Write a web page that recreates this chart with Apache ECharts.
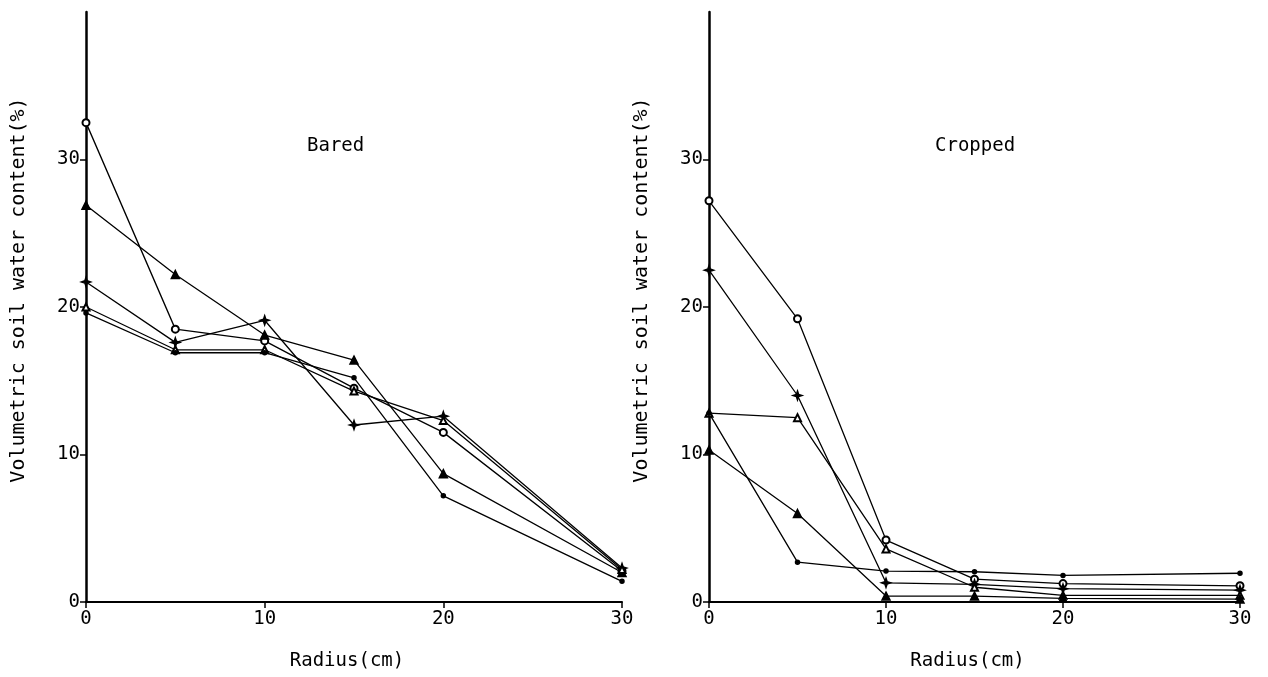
<!DOCTYPE html>
<html>
<head>
<meta charset="utf-8">
<script src="https://cdn.jsdelivr.net/npm/echarts@6/dist/echarts.min.js"></script>
<style>
  html, body { margin: 0; padding: 0; background: #ffffff; }
  #chart { width: 1268px; height: 677px; }
</style>
</head>
<body>
<div id="chart"></div>
<script>
// Radius from the plant (cm)
const radius = [0, 5, 10, 15, 20, 30];

// Bared plot: volumetric soil water content (%)
const baredCircle   = [32.5, 18.5, 17.7, 14.5, 11.5, 2.1];
const baredTriangle = [26.9, 22.2, 18.1, 16.4, 8.7, 2.0];
const baredStar     = [21.7, 17.6, 19.1, 12.0, 12.6, 2.3];
const baredRing     = [20.0, 17.1, 17.1, 14.3, 12.3, 2.2];
const baredDot      = [19.6, 16.9, 16.9, 15.2, 7.2, 1.4];

// Cropped plot: volumetric soil water content (%)
const croppedCircle   = [27.2, 19.2, 4.2, 1.55, 1.25, 1.1];
const croppedStar     = [22.5, 14.0, 1.3, 1.2, 0.9, 0.8];
const croppedOpenTri  = [12.8, 12.5, 3.6, 1.0, 0.45, 0.45];
const croppedTriangle = [10.3, 6.0, 0.4, 0.4, 0.25, 0.2];
const croppedDot      = [12.8, 2.7, 2.1, 2.05, 1.8, 1.95];

const yTicks = [0, 10, 20, 30];
const xTicks = [0, 10, 20, 30];

const panelTitles = ['Bared', 'Cropped'];
const xName = 'Radius(cm)';
const yName = 'Volumetric soil water content(%)';

const FONT = 'DejaVu Sans Mono';
const INK = '#000000';

const STAR = 'path://M0,-10 L2.5,-2.5 L10,0 L2.5,2.5 L0,10 L-2.5,2.5 L-10,0 L-2.5,-2.5 Z';

function pairs(ys) { return radius.map((x, i) => [x, ys[i]]); }

function line(name, ys, idx, symbol, size) {
  return {
    name, type: 'line', xAxisIndex: idx, yAxisIndex: idx,
    data: pairs(ys), symbol, symbolSize: size,
    lineStyle: { color: INK, width: 1.3 },
    itemStyle: { color: INK, borderColor: INK, borderWidth: 1.5 },
    emphasis: { disabled: true }, animation: false, z: 3
  };
}

function xAxis(idx) {
  return {
    type: 'value', gridIndex: idx, min: 0, max: 30, interval: 10,
    name: xName, nameLocation: 'middle', nameGap: 50,
    nameTextStyle: { fontFamily: FONT, fontSize: 19, color: INK, padding: [0, 14, 0, 0] },
    axisLine: { lineStyle: { color: INK, width: 2 } },
    axisTick: { show: true, length: 6, lineStyle: { color: INK, width: 1.5 }, customValues: xTicks },
    axisLabel: { fontFamily: FONT, fontSize: 19, color: INK, margin: 8, customValues: xTicks },
    splitLine: { show: false }
  };
}

function yAxis(idx) {
  return {
    type: 'value', gridIndex: idx, min: 0, max: 40, interval: 10,
    name: yName, nameLocation: 'middle', nameGap: 57,
    nameTextStyle: { fontFamily: FONT, fontSize: 20, color: INK, padding: [0, 0, 0, 34] },
    axisLine: { lineStyle: { color: INK, width: 2.5 } },
    axisTick: { show: true, length: 6, lineStyle: { color: INK, width: 1.5 }, customValues: yTicks },
    axisLabel: { fontFamily: FONT, fontSize: 19, color: INK, margin: 6, customValues: yTicks },
    splitLine: { show: false }
  };
}

const chart = echarts.init(document.getElementById('chart'), null, { renderer: 'canvas' });
chart.setOption({
  backgroundColor: '#ffffff',
  animation: false,
  title: [
    { text: panelTitles[0], left: 302, top: 132, textStyle: { fontFamily: FONT, fontSize: 19, fontWeight: 'normal', color: INK } },
    { text: panelTitles[1], left: 930, top: 132, textStyle: { fontFamily: FONT, fontSize: 19, fontWeight: 'normal', color: INK } }
  ],
  grid: [
    { left: 86, right: 646, top: 12, bottom: 75 },
    { left: 709, right: 28, top: 12, bottom: 75 }
  ],
  xAxis: [xAxis(0), xAxis(1)],
  yAxis: [yAxis(0), yAxis(1)],
  series: [
    line('circle', baredCircle, 0, 'emptyCircle', 7),
    line('triangle', baredTriangle, 0, 'triangle', 8),
    line('star', baredStar, 0, STAR, 9),
    line('ring', baredRing, 0, 'emptyTriangle', 7),
    line('dot', baredDot, 0, 'circle', 4),
    line('circle', croppedCircle, 1, 'emptyCircle', 7),
    line('star', croppedStar, 1, STAR, 9),
    line('open triangle', croppedOpenTri, 1, 'emptyTriangle', 7),
    line('triangle', croppedTriangle, 1, 'triangle', 8),
    line('dot', croppedDot, 1, 'circle', 4)
  ]
});
</script>
</body>
</html>
